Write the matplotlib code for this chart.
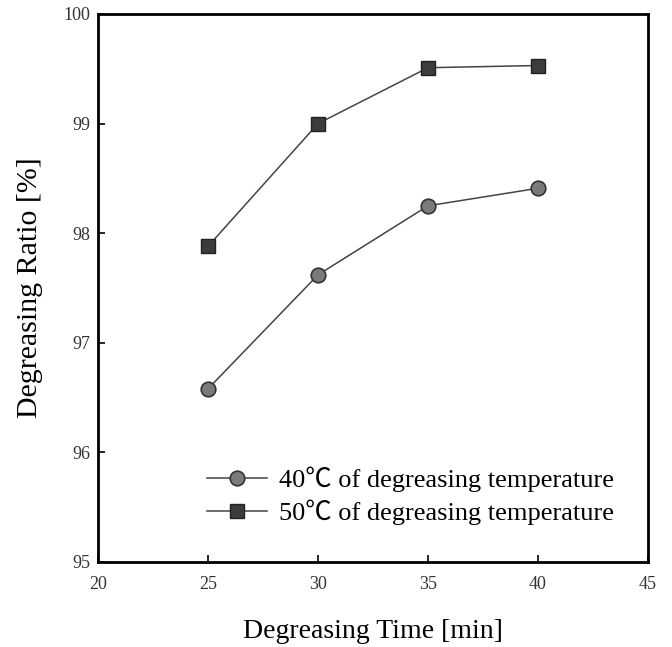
import matplotlib
matplotlib.use("Agg")
import matplotlib.pyplot as plt

time_min = [25, 30, 35, 40]
ratio_40C = [96.58, 97.62, 98.25, 98.41]
ratio_50C = [97.88, 99.00, 99.51, 99.53]
label_40 = "40\u2103 of degreasing temperature"
label_50 = "50\u2103 of degreasing temperature"
xticks = [20, 25, 30, 35, 40, 45]
yticks = [95, 96, 97, 98, 99, 100]

fam = ['Liberation Serif', 'Noto Sans CJK SC', 'DejaVu Serif']
plt.rcParams['font.family'] = fam

fig = plt.figure(figsize=(6.72, 6.47), dpi=100)
ax = fig.add_axes([98/672, 1 - 562/647, 550/672, 548/647])

ax.plot(time_min, ratio_40C, color='#444444', lw=1.1, marker='o', ms=10.5,
        mfc='#7a7a7a', mec='#333333', mew=1.2, label=label_40)
ax.plot(time_min, ratio_50C, color='#444444', lw=1.1, marker='s', ms=10,
        mfc='#3c3c3c', mec='#222222', mew=1.0, label=label_50)

ax.set_xlim(20, 45)
ax.set_ylim(95, 100)
ax.set_xticks(xticks)
ax.set_yticks(yticks)
ax.tick_params(direction='in', length=5, width=1.2, labelsize=13,
               labelcolor='#333333')
ax.tick_params(axis='x', pad=10)
ax.tick_params(axis='y', pad=5.5)
for s in ax.spines.values():
    s.set_linewidth(2)
ax.set_xlabel("Degreasing Time [min]", fontsize=20, labelpad=19)
ax.set_ylabel("Degreasing Ratio [%]", fontsize=21.5, labelpad=15)
leg = ax.legend(loc='lower right', bbox_to_anchor=(0.982, 0.024), frameon=False,
                fontsize=19, handlelength=2.3, handletextpad=0.45, labelspacing=0.28)

fig.savefig("out.png", dpi=100)
